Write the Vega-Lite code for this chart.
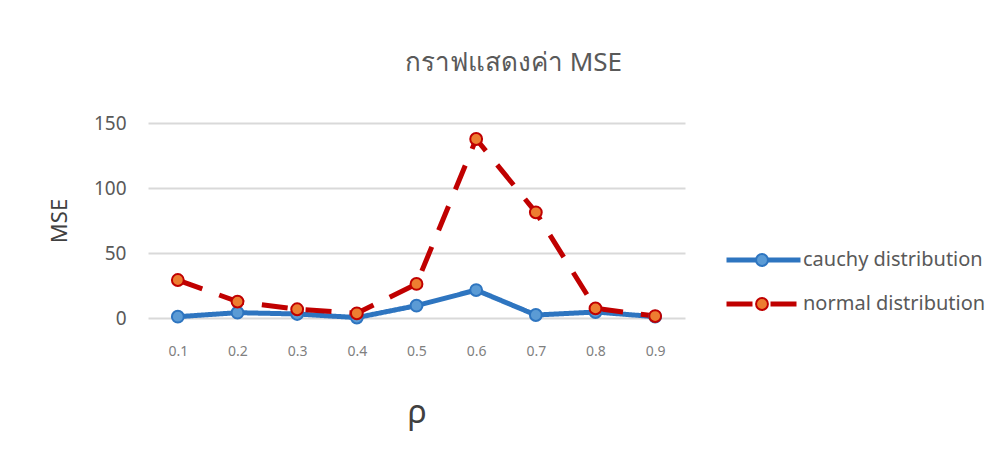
{
  "$schema": "https://vega.github.io/schema/vega-lite/v6.json",
  "width": 537,
  "height": 195,
  "autosize": "none",
  "padding": {"left": 148, "top": 123, "right": 322, "bottom": 146},
  "background": "white",
  "title": {
    "text": "กราฟแสดงค่า MSE",
    "font": "Noto Sans",
    "fontSize": 26,
    "fontWeight": "normal",
    "color": "#595959",
    "anchor": "middle",
    "dx": 97,
    "offset": 38
  },
  "data": {
    "values": [
      {"rho": "0.1", "series": "cauchy distribution", "value": 1.0},
      {"rho": "0.2", "series": "cauchy distribution", "value": 4.1},
      {"rho": "0.3", "series": "cauchy distribution", "value": 3.1},
      {"rho": "0.4", "series": "cauchy distribution", "value": 0.3},
      {"rho": "0.5", "series": "cauchy distribution", "value": 9.5},
      {"rho": "0.6", "series": "cauchy distribution", "value": 21.5},
      {"rho": "0.7", "series": "cauchy distribution", "value": 2.3},
      {"rho": "0.8", "series": "cauchy distribution", "value": 4.6},
      {"rho": "0.9", "series": "cauchy distribution", "value": 1.0},
      {"rho": "0.1", "series": "normal distribution", "value": 29.2},
      {"rho": "0.2", "series": "normal distribution", "value": 12.6},
      {"rho": "0.3", "series": "normal distribution", "value": 6.7},
      {"rho": "0.4", "series": "normal distribution", "value": 3.6},
      {"rho": "0.5", "series": "normal distribution", "value": 26.2},
      {"rho": "0.6", "series": "normal distribution", "value": 137.7},
      {"rho": "0.7", "series": "normal distribution", "value": 81.3},
      {"rho": "0.8", "series": "normal distribution", "value": 7.4},
      {"rho": "0.9", "series": "normal distribution", "value": 1.5}
    ]
  },
  "encoding": {
    "x": {
      "field": "rho",
      "type": "ordinal",
      "scale": {"type": "point", "padding": 0.5},
      "axis": {
        "title": "ρ",
        "titleFont": "Noto Sans",
        "titleFontSize": 32,
        "titleFontWeight": "normal",
        "titleColor": "#404040",
        "titlePadding": 39,
        "labelAngle": 0,
        "labelFont": "Noto Sans",
        "labelFontSize": 14,
        "labelColor": "#808080",
        "labelPadding": 26,
        "domain": false,
        "ticks": false,
        "grid": false
      }
    },
    "y": {
      "field": "value",
      "type": "quantitative",
      "scale": {"domain": [0, 150], "nice": false},
      "axis": {
        "values": [0, 50, 100, 150],
        "title": "MSE",
        "titleFont": "Noto Sans",
        "titleFontSize": 22,
        "titleFontWeight": "normal",
        "titleColor": "#404040",
        "titlePadding": 22,
        "labelFont": "Noto Sans",
        "labelFontSize": 19,
        "labelColor": "#595959",
        "labelPadding": 22,
        "domain": false,
        "ticks": false,
        "gridColor": "#d9d9d9",
        "gridWidth": 2
      }
    }
  },
  "layer": [
    {
      "mark": {"type": "line", "strokeWidth": 5, "strokeCap": "butt"},
      "encoding": {
        "color": {
          "field": "series",
          "type": "nominal",
          "scale": {"range": ["#2e75c0", "#c00000"]},
          "legend": {
            "orient": "none",
            "legendX": 576,
            "legendY": 115,
            "title": null,
            "symbolType": "stroke",
            "symbolSize": 5476,
            "symbolStrokeWidth": 5,
            "labelFont": "Noto Sans",
            "labelFontSize": 20,
            "labelColor": "#595959",
            "labelOffset": 0,
            "labelLimit": 300,
            "clipHeight": 44,
            "rowPadding": 0
          }
        },
        "strokeDash": {
          "field": "series",
          "type": "nominal",
          "scale": {"range": [[1, 0], [26, 18]]}
        }
      }
    },
    {
      "mark": {"type": "point", "filled": false, "size": 140, "strokeWidth": 2, "opacity": 1},
      "encoding": {
        "fill": {
          "field": "series",
          "type": "nominal",
          "scale": {"domain": ["cauchy distribution", "normal distribution"], "range": ["#5b9bd5", "#ed7d31"]},
          "legend": {
            "orient": "none",
            "legendX": 607,
            "legendY": 115,
            "title": null,
            "symbolType": "circle",
            "symbolSize": 140,
            "symbolStrokeWidth": 2,
            "labelExpr": "''",
            "clipHeight": 44,
            "rowPadding": 0
          }
        },
        "stroke": {
          "field": "series",
          "type": "nominal",
          "scale": {"domain": ["cauchy distribution", "normal distribution"], "range": ["#2e75c0", "#c00000"]}
        }
      }
    }
  ],
  "config": {"view": {"stroke": null}}
}
